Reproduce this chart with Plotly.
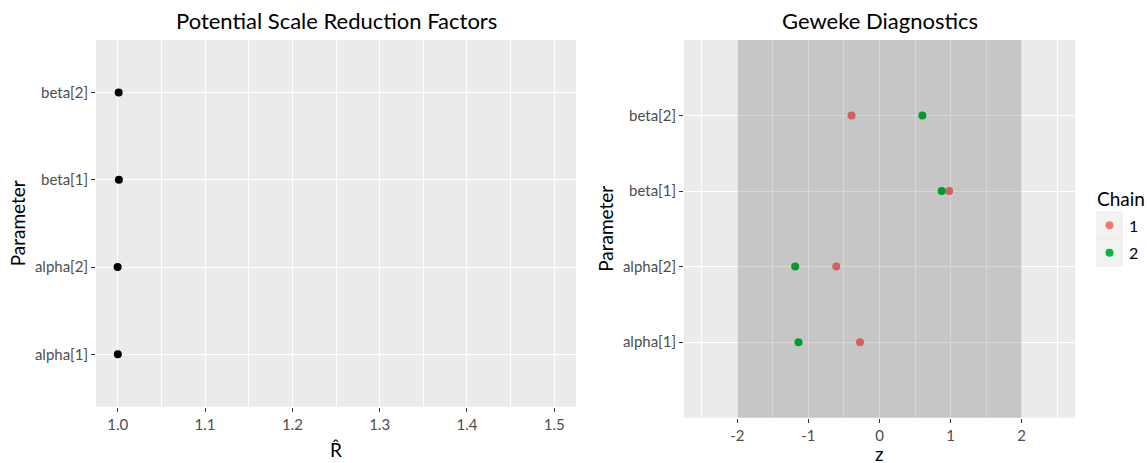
import plotly.graph_objects as go

# Parameters shown on both panels (bottom to top)
parameters = ["alpha[1]", "alpha[2]", "beta[1]", "beta[2]"]

# Potential scale reduction factors (R-hat) per parameter
rhat = [1.000, 0.9998, 1.0012, 1.0010]

# Geweke z-scores per chain
chains = ["1", "2"]
geweke_chain1 = [-0.275, -0.608, 0.979, -0.393]
geweke_chain2 = [-1.139, -1.186, 0.875, 0.603]

rhat_ticks = [1.0, 1.1, 1.2, 1.3, 1.4, 1.5]
z_ticks = [-2, -1, 0, 1, 2]

chain_colors = {"1": "#F8766D", "2": "#00BA38"}

W, H = 1147, 463
FONT = "Lato"
PANEL_BG = "#EBEBEB"
TICK_COLOR = "#4D4D4D"
TITLE_SIZE = 22
AXIS_TITLE_SIZE = 19
TICK_SIZE = 15

# panel boxes in pixels: left, right, top, bottom
LEFT_PANEL = (96, 576, 40, 406.7)
RIGHT_PANEL = (684, 1075, 40, 417.7)


def px_x(p):
    return p / W


def px_y(p):
    return 1 - p / H


fig = go.Figure()

fig.add_trace(go.Scatter(
    x=rhat, y=parameters, mode="markers",
    marker=dict(color="black", size=8),
    xaxis="x", yaxis="y", showlegend=False,
))

for chain, vals in zip(chains, [geweke_chain1, geweke_chain2]):
    fig.add_trace(go.Scatter(
        x=vals, y=parameters, mode="markers", name=chain,
        marker=dict(color=chain_colors[chain], size=8),
        xaxis="x2", yaxis="y2", showlegend=False,
    ))

# Legend keys for the chain colours, drawn on a small hidden axis pair
key_slots = [len(chains) - i - 0.5 for i in range(len(chains))]
fig.add_trace(go.Scatter(
    x=[0.5] * len(chains), y=key_slots, mode="markers",
    marker=dict(color=[chain_colors[c] for c in chains], size=8),
    xaxis="x3", yaxis="y3", showlegend=False, hoverinfo="skip",
))

common_axis = dict(
    showline=False, zeroline=False,
    gridcolor="white", gridwidth=1.4,
    ticks="outside", ticklen=4, tickwidth=1.1, tickcolor="#333333",
    tickfont=dict(family=FONT, size=TICK_SIZE, color=TICK_COLOR),
)

KEY_TOP, KEY_H = 211.5, 27.5
LEGEND_LEFT, LEGEND_RIGHT = 1096, 1123

shapes = [
    # |z| < 2 band, drawn translucent over the Geweke panel
    dict(type="rect", xref="x2", yref="y2 domain", x0=-2, x1=2, y0=0, y1=1,
         fillcolor="black", opacity=0.155, line=dict(width=0), layer="above"),
]


def text_note(text, x, y, size, xanchor="center", yanchor="middle", **kw):
    return dict(text=text, x=px_x(x), y=px_y(y), xref="paper", yref="paper",
                showarrow=False, font=dict(family=FONT, size=size, color="black"),
                xanchor=xanchor, yanchor=yanchor, **kw)


annotations = [
    text_note("Potential Scale Reduction Factors",
              (LEFT_PANEL[0] + LEFT_PANEL[1]) / 2, 20, TITLE_SIZE),
    text_note("Geweke Diagnostics",
              (RIGHT_PANEL[0] + RIGHT_PANEL[1]) / 2, 20, TITLE_SIZE),
    # x-axis titles
    text_note("R\u0302", (LEFT_PANEL[0] + LEFT_PANEL[1]) / 2, 449, AXIS_TITLE_SIZE,
              height=22),
    text_note("z", (RIGHT_PANEL[0] + RIGHT_PANEL[1]) / 2, 453, AXIS_TITLE_SIZE,
              height=16),
    # y-axis titles
    text_note("Parameter", 17, (LEFT_PANEL[2] + LEFT_PANEL[3]) / 2, AXIS_TITLE_SIZE,
              textangle=-90),
    text_note("Parameter", 606, (RIGHT_PANEL[2] + RIGHT_PANEL[3]) / 2, AXIS_TITLE_SIZE,
              textangle=-90),
    # legend title
    text_note("Chain", LEGEND_LEFT - 1, 198, AXIS_TITLE_SIZE, xanchor="left"),
]
for i, chain in enumerate(chains):
    top = KEY_TOP + i * KEY_H
    shapes.append(dict(
        type="rect", xref="paper", yref="paper",
        x0=px_x(LEGEND_LEFT), x1=px_x(LEGEND_RIGHT),
        y0=px_y(top + KEY_H - 1), y1=px_y(top),
        fillcolor="#F2F2F2", line=dict(width=0), layer="below"))
    annotations.append(text_note(chain, LEGEND_RIGHT + 4, top + KEY_H / 2,
                                 TICK_SIZE + 1, xanchor="left"))

fig.update_layout(
    width=W, height=H,
    margin=dict(l=0, r=0, t=0, b=0),
    paper_bgcolor="white",
    plot_bgcolor=PANEL_BG,
    font=dict(family=FONT, color="black"),
    showlegend=False,
    xaxis=dict(
        domain=[px_x(LEFT_PANEL[0]), px_x(LEFT_PANEL[1])], anchor="y",
        range=[0.975, 1.525], tickvals=rhat_ticks,
        ticktext=[f"{v:.1f}" for v in rhat_ticks],
        minor=dict(showgrid=True, gridcolor="white", gridwidth=0.7,
                   tickvals=[1.05, 1.15, 1.25, 1.35, 1.45], ticks=""),
        **common_axis,
    ),
    yaxis=dict(
        domain=[px_y(LEFT_PANEL[3]), px_y(LEFT_PANEL[2])], anchor="x",
        type="category", categoryorder="array", categoryarray=parameters,
        range=[-0.6, 3.6],
        **common_axis,
    ),
    xaxis2=dict(
        domain=[px_x(RIGHT_PANEL[0]), px_x(RIGHT_PANEL[1])], anchor="y2",
        range=[-2.75, 2.75], tickvals=z_ticks,
        ticktext=[str(v) for v in z_ticks],
        minor=dict(showgrid=True, gridcolor="white", gridwidth=0.7,
                   tickvals=[-2.5, -1.5, -0.5, 0.5, 1.5, 2.5], ticks=""),
        **common_axis,
    ),
    yaxis2=dict(
        domain=[px_y(RIGHT_PANEL[3]), px_y(RIGHT_PANEL[2])], anchor="x2",
        type="category", categoryorder="array", categoryarray=parameters,
        range=[-1, 4],
        **common_axis,
    ),
    xaxis3=dict(
        domain=[px_x(LEGEND_LEFT), px_x(LEGEND_RIGHT)], anchor="y3",
        range=[0, 1], visible=False, fixedrange=True,
    ),
    yaxis3=dict(
        domain=[px_y(KEY_TOP + KEY_H * len(chains)), px_y(KEY_TOP)], anchor="x3",
        range=[0, len(chains)], visible=False, fixedrange=True,
    ),
    annotations=annotations,
    shapes=shapes,
)

fig.write_html("out.html")
